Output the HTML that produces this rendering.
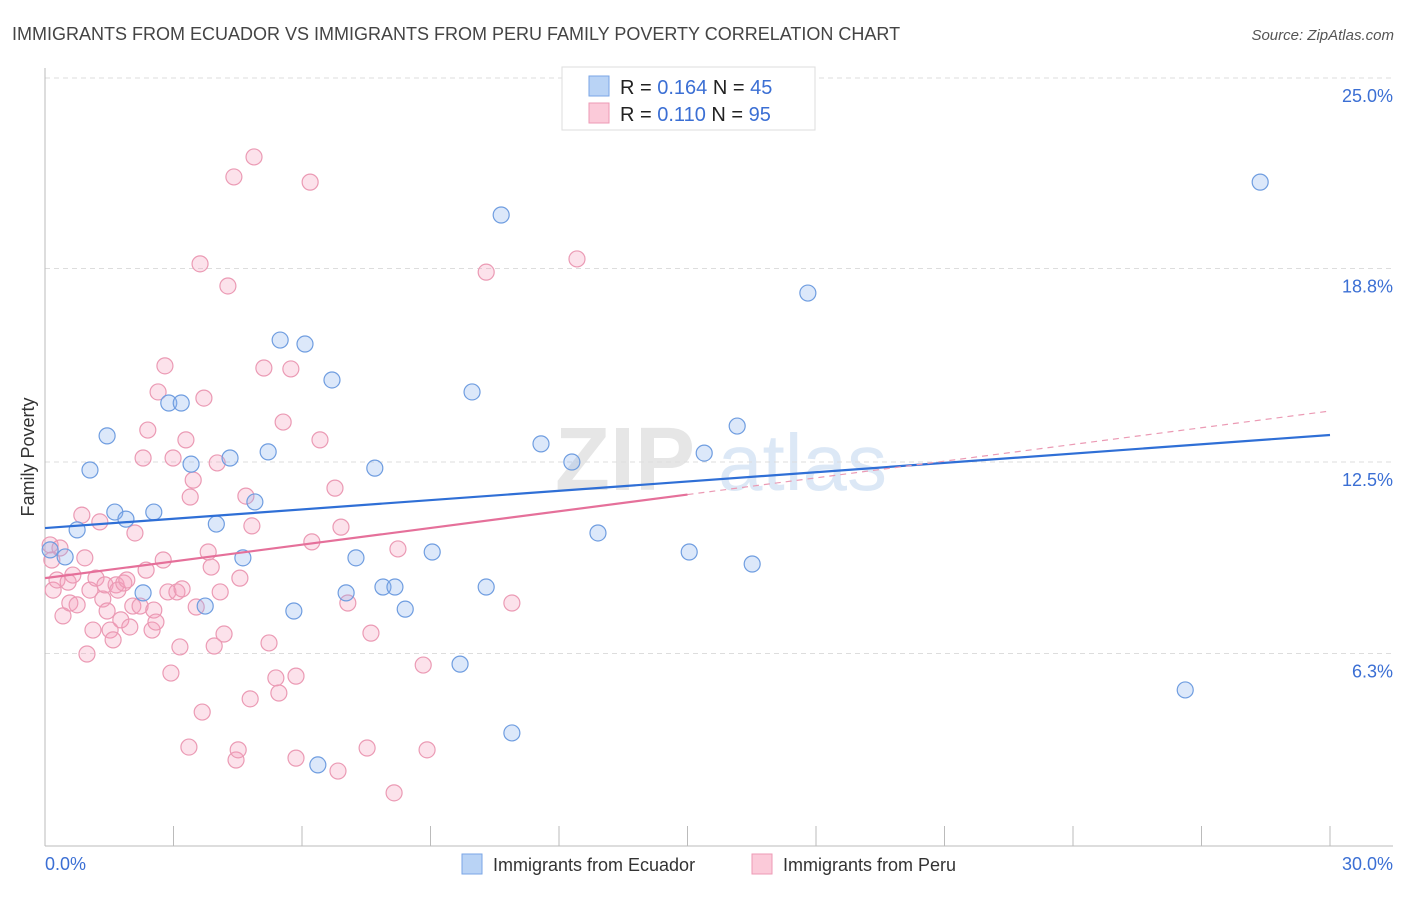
<!DOCTYPE html>
<html><head><meta charset="utf-8"><style>
body{margin:0;background:#fff;font-family:"Liberation Sans",sans-serif;}
svg text{font-family:"Liberation Sans",sans-serif;}
</style></head><body>
<svg id="chart" width="1406" height="892" xmlns="http://www.w3.org/2000/svg">
<text x="12" y="40" font-size="18" fill="#444">IMMIGRANTS FROM ECUADOR VS IMMIGRANTS FROM PERU FAMILY POVERTY CORRELATION CHART</text>
<text x="1394" y="40" font-size="15" fill="#555" text-anchor="end" font-style="italic">Source: ZipAtlas.com</text>
<text transform="translate(34,457) rotate(-90)" font-size="18" fill="#333" text-anchor="middle">Family Poverty</text>
<g><text x="555" y="490" font-size="90" fill="#e6e6e6" font-family="Liberation Serif" font-weight="bold">ZIP</text><text x="718" y="490" font-size="80" fill="#dce8f6">atlas</text></g>
<g id="grid"></g>
<g id="axes"></g>
<g id="pts"></g>
<g id="trend"></g>
<g>
<rect x="562" y="67" width="253" height="63" fill="#fff" stroke="#ddd"/>
<rect x="589" y="76" width="20" height="20" fill="#b9d3f5" stroke="#7aa6e6"/>
<rect x="589" y="103" width="20" height="20" fill="#fbcad9" stroke="#ee9ab5"/>
<text x="620" y="94" font-size="20" fill="#222">R = <tspan fill="#3b6fd4">0.164</tspan>   N = <tspan fill="#3b6fd4">45</tspan></text>
<text x="620" y="121" font-size="20" fill="#222">R =  <tspan fill="#3b6fd4">0.110</tspan>   N = <tspan fill="#3b6fd4">95</tspan></text>
</g>
<g>
<rect x="462" y="854" width="20" height="20" fill="#b9d3f5" stroke="#7aa6e6"/>
<text x="493" y="871" font-size="18" fill="#333">Immigrants from Ecuador</text>
<rect x="752" y="854" width="20" height="20" fill="#fbcad9" stroke="#ee9ab5"/>
<text x="783" y="871" font-size="18" fill="#333">Immigrants from Peru</text>
</g>
</svg>
<script>
const yTicks=[6.3,12.5,18.8,25.0];
const yTickLabels=["6.3%","12.5%","18.8%","25.0%"];
const xTickCount=10;
const ecuadorX=[0.12,0.47,0.75,1.05,1.45,1.63,1.89,2.29,2.54,2.89,3.18,3.41,3.74,4.0,4.32,4.62,4.90,5.21,5.49,5.81,6.07,6.37,6.70,7.03,7.26,7.70,7.89,8.17,8.41,9.04,9.69,9.97,10.30,10.65,10.90,11.58,12.30,12.91,15.04,15.39,16.16,16.51,17.81,26.62,28.37];
const ecuadorY=[9.64,9.41,10.29,12.24,13.35,10.87,10.64,8.24,10.87,14.42,14.42,12.43,7.81,10.48,12.63,9.38,11.2,12.83,16.47,7.65,16.34,2.64,15.17,8.24,9.38,12.3,8.43,8.43,7.71,9.57,5.92,14.78,8.43,20.54,3.68,13.09,12.5,10.19,9.57,12.79,13.67,9.18,18.0,5.08,21.61];
const peruX=[.12,.16,.19,.28,.35,.42,.54,.58,.65,.75,.86,.93,.98,1.05,1.12,1.19,1.28,1.35,1.40,1.45,1.52,1.59,1.66,1.70,1.77,1.84,1.91,1.98,2.05,2.10,2.22,2.29,2.36,2.40,2.50,2.54,2.59,2.64,2.76,2.80,2.87,2.94,2.99,3.08,3.15,3.20,3.29,3.36,3.39,3.46,3.53,3.62,3.67,3.71,3.81,3.88,3.95,4.02,4.09,4.18,4.27,4.41,4.46,4.51,4.55,4.69,4.79,4.83,4.88,5.11,5.23,5.39,5.46,5.56,5.74,5.86,5.86,6.19,6.23,6.42,6.77,6.84,6.91,7.07,7.52,7.61,8.15,8.24,8.83,8.92,10.30,10.90,12.42];
const peruY=[9.8,9.31,8.33,8.66,9.7,7.49,8.59,7.91,8.82,7.85,10.77,9.38,6.25,8.33,7.03,8.72,10.55,8.04,8.5,7.65,7.03,6.71,8.5,8.33,7.36,8.56,8.66,7.13,7.81,10.19,7.81,12.63,8.98,13.54,7.03,7.68,7.29,14.78,9.31,15.63,8.27,5.63,12.63,8.27,6.48,8.37,13.22,3.22,11.36,11.91,7.78,18.95,4.36,14.58,9.57,9.08,6.51,12.47,8.27,6.9,18.23,21.78,2.8,3.13,8.72,11.39,4.79,10.42,22.43,15.56,6.61,5.47,4.98,13.8,15.53,2.86,5.53,21.61,9.9,13.22,11.65,2.44,10.38,7.91,3.19,6.93,1.73,9.67,5.89,3.13,18.68,7.91,19.11];
const ecuadorTrend=[10.35,13.38];
const peruTrend=[8.72,14.16];
const peruSolidEnd=15;

const NS="http://www.w3.org/2000/svg";
const X0=45,X1=1330,Y0=846,PXPERPCT=30.72;
const sx=v=>X0+v/30*(X1-X0);
const sy=v=>Y0-v*PXPERPCT;
function mk(tag,attrs,parent){const e=document.createElementNS(NS,tag);for(const k in attrs)e.setAttribute(k,attrs[k]);parent.appendChild(e);return e;}
const grid=document.getElementById('grid'),axes=document.getElementById('axes'),pts=document.getElementById('pts'),trend=document.getElementById('trend');
yTicks.forEach((t,i)=>{
  const y=sy(t===25.0?25.0:t)+(t===6.3?1:0);
  const l=mk('line',{x1:X0,x2:1393,y1:y,y2:y,stroke:'#ddd','stroke-dasharray':'5,4'},grid);
  
  
  const tx=mk('text',{x:1393,y:y+24,'font-size':18,fill:'#3b6fd4','text-anchor':'end'},axes);
  tx.textContent=yTickLabels[i];
  
  
});
mk('line',{x1:X0,x2:X0,y1:68,y2:Y0,stroke:'#bbb'},axes);
mk('line',{x1:X0,x2:1393,y1:Y0,y2:Y0,stroke:'#bbb'},axes);
for(let i=1;i<=xTickCount;i++){const x=sx(i*3);const t=mk('line',{x1:x,x2:x,y1:826,y2:Y0,stroke:'#bbb'},axes);
  
  }
const xl=mk('text',{x:45,y:870,'font-size':18,fill:'#3b6fd4'},axes);xl.textContent='0.0%';


const xr=mk('text',{x:1393,y:870,'font-size':18,fill:'#3b6fd4','text-anchor':'end'},axes);xr.textContent='30.0%';


peruX.forEach((x,i)=>{const c=mk('circle',{cx:sx(x),cy:sy(peruY[i]),r:8,fill:'rgba(244,160,188,0.3)',stroke:'#eb9ab4','stroke-width':1.2},pts);
  
  });
ecuadorX.forEach((x,i)=>{const c=mk('circle',{cx:sx(x),cy:sy(ecuadorY[i]),r:8,fill:'rgba(140,180,240,0.3)',stroke:'#6f9de0','stroke-width':1.2},pts);
  
  });
const pAt=x=>peruTrend[0]+(peruTrend[1]-peruTrend[0])*x/30;
const l1=mk('line',{x1:sx(0),y1:sy(ecuadorTrend[0]),x2:sx(30),y2:sy(ecuadorTrend[1]),stroke:'#2f6fd6','stroke-width':2.2},trend);


const l2=mk('line',{x1:sx(0),y1:sy(pAt(0)),x2:sx(peruSolidEnd),y2:sy(pAt(peruSolidEnd)),stroke:'#e5709a','stroke-width':2.2},trend);


const l3=mk('line',{x1:sx(peruSolidEnd),y1:sy(pAt(peruSolidEnd)),x2:sx(30),y2:sy(pAt(30)),stroke:'#eb9ab4','stroke-width':1.2,'stroke-dasharray':'6,5'},trend);


</script>
</body></html>
